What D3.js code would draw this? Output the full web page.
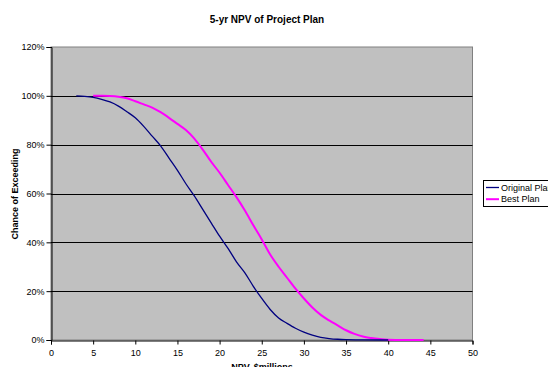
<!DOCTYPE html>
<html><head><meta charset="utf-8">
<script src="https://cdn.jsdelivr.net/npm/d3@7"></script>
<style>body{margin:0;background:#fff;} svg{display:block;font-family:"Liberation Sans",Arial,sans-serif;}</style>
</head><body>
<svg id="c" width="548" height="367"></svg>
<script>
const title = "5-yr NPV of Project Plan";
const xLabel = "NPV, $millions";
const yLabel = "Chance of Exceeding";
const seriesNames = ["Original Plan", "Best Plan"];
const xTicks = [0,5,10,15,20,25,30,35,40,45,50];
const yTicks = [0,0.2,0.4,0.6,0.8,1.0,1.2];

const origX = [3,4,5,6,7,8,9,10,11,12,13,14,15,16,17,18,19,20,21,22,23,24,25,26,27,28,29,30,31,32,33,34,35,37,40];
const origY = [100,99.8,99.4,98.6,97.5,95.8,93.5,91,87.5,83.5,79.5,74.5,69.5,64,59,53.5,48,42.5,37.5,32,27.5,22,17,12.5,9,6.8,4.8,3.2,2,1.1,0.6,0.3,0.15,0.05,0];
const bestX = [5,6,7,8,9,10,11,12,13,14,15,16,17,18,19,20,21,22,23,24,25,26,27,28,29,30,31,32,33,34,35,36,37,38,39,40,42,44.2];
const bestY = [100,100,99.9,99.6,99,97.8,96.5,95.2,93.3,91,88.5,86,82.5,78,73,68.5,63.5,58.5,53,47,41.2,35,30,25.5,21,17,13.3,10.3,8,6,4,2.5,1.4,0.8,0.4,0.15,0.03,0];

const svg = d3.select("#c");
const L = 51, R = 472.5, T = 47, B = 340;
const x = d3.scaleLinear().domain([0,50]).range([L,R]);
const y = d3.scaleLinear().domain([0,1.2]).range([B,T]);

svg.append("rect").attr("x",L).attr("y",T).attr("width",R-L).attr("height",B-T)
  .attr("fill","#C0C0C0").attr("stroke","#808080").attr("stroke-width",1);

// gridlines
svg.append("g").selectAll("line").data(yTicks.filter(d=>d>0 && d<1.2)).join("line")
  .attr("x1",L).attr("x2",R).attr("y1",d=>Math.round(y(d))+0.5).attr("y2",d=>Math.round(y(d))+0.5)
  .attr("stroke","#000").attr("stroke-width",1);

// axes
const yAxis = d3.axisLeft(y).tickValues(yTicks).tickFormat(d3.format(".0%")).tickSize(5).tickPadding(2);
const gy = svg.append("g").attr("transform",`translate(${L+0.5},0)`).call(yAxis);
const xAxis = d3.axisBottom(x).tickValues(xTicks).tickSize(4).tickPadding(5);
const gx = svg.append("g").attr("transform",`translate(0,${B+0.5})`).call(xAxis);
[gy,gx].forEach(g=>{
  g.select(".domain").attr("stroke","#000");
  g.selectAll(".tick line").attr("stroke","#000");
  g.selectAll("text").attr("font-size","9px").attr("fill","#000").attr("font-family","Liberation Sans, Arial, sans-serif");
});

const line = d3.line().x(d=>x(d[0])).y(d=>y(d[1]/100)).curve(d3.curveMonotoneX);
const orig = origX.map((v,i)=>[v,origY[i]]);
const best = bestX.map((v,i)=>[v,bestY[i]]);
svg.append("path").datum(best).attr("d",line).attr("fill","none").attr("stroke","#FF00FF").attr("stroke-width",2);
svg.append("path").datum(orig).attr("d",line).attr("fill","none").attr("stroke","#000080").attr("stroke-width",1.3);

// title & labels
svg.append("text").attr("x",267).attr("y",22.5).attr("text-anchor","middle")
  .attr("font-size","10px").attr("font-weight","bold").text(title);
svg.append("text").attr("x",262).attr("y",370).attr("text-anchor","middle")
  .attr("font-size","9px").attr("font-weight","bold").text(xLabel);
svg.append("text").attr("transform","translate(17.5,194) rotate(-90)").attr("text-anchor","middle")
  .attr("font-size","9px").attr("font-weight","bold").text(yLabel);

// legend
const lg = svg.append("g");
lg.append("rect").attr("x",483.5).attr("y",180.5).attr("width",80).attr("height",26)
  .attr("fill","#fff").attr("stroke","#000").attr("stroke-width",1);
const colors = ["#000080","#FF00FF"], widths=[1.3,2];
seriesNames.forEach((n,i)=>{
  const yy = 187.5 + i*11.7;
  lg.append("line").attr("x1",486).attr("x2",499).attr("y1",yy).attr("y2",yy)
    .attr("stroke",colors[i]).attr("stroke-width",widths[i]);
  lg.append("text").attr("x",501).attr("y",yy+3.2).attr("font-size","9px").text(n);
});
</script>
</body></html>
